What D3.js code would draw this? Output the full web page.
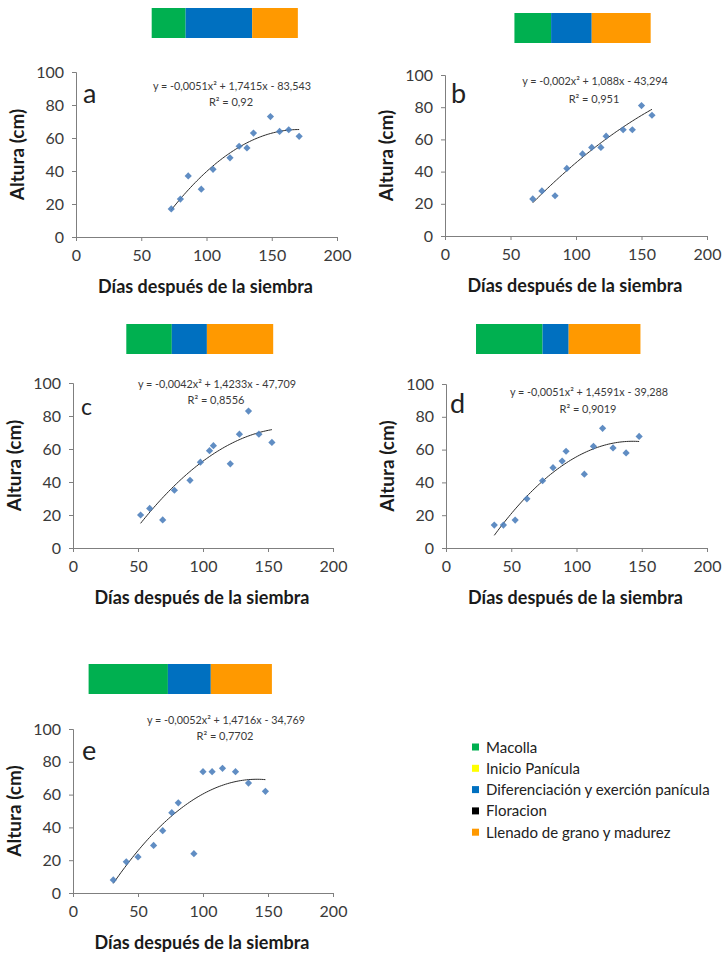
<!DOCTYPE html>
<html>
<head>
<meta charset="utf-8">
<script src="https://cdn.jsdelivr.net/npm/d3@7"></script>
<style>
  html, body { margin: 0; padding: 0; background: #fff; }
  svg { display: block; }
  text { font-family: Lato, "Open Sans", sans-serif; }
</style>
</head>
<body>
<svg id="fig" width="727" height="957"></svg>
<script>
// Plant height (cm) against days after sowing, five sowing dates (a–e)
const xTicks = [0, 50, 100, 150, 200];
const yTicks = [0, 20, 40, 60, 80, 100];

const daysA = [73, 80, 86, 96, 105, 118, 125, 131, 136, 149, 156, 163, 171];
const alturaA = [17, 23, 37, 29, 41, 48, 55, 54, 63, 73, 64, 65, 61];
const coefA = [-0.0051, 1.7415, -83.543];
const r2A = 0.92;
const stagesA = [58, 84, 135, 170];

const daysB = [67, 74, 84, 93, 105, 112, 119, 123, 136, 143, 150, 158];
const alturaB = [23, 28, 25, 42, 51, 55, 55, 62, 66, 66, 81, 75];
const coefB = [-0.002, 1.088, -43.294];
const r2B = 0.951;
const stagesB = [53, 81, 112, 157];

const daysC = [52, 59, 69, 78, 90, 98, 105, 108, 121, 128, 135, 143, 153];
const alturaC = [20, 24, 17, 35, 41, 52, 59, 62, 51, 69, 83, 69, 64];
const coefC = [-0.0042, 1.4233, -47.709];
const r2C = 0.8556;
const stagesC = [41, 76, 103, 154];

const daysD = [37, 44, 53, 62, 74, 82, 89, 92, 106, 113, 120, 128, 138, 148];
const alturaD = [14, 14, 17, 30, 41, 49, 53, 59, 45, 62, 73, 61, 58, 68];
const coefD = [-0.0051, 1.4591, -39.288];
const r2D = 0.9019;
const stagesD = [23, 74, 94, 149];

const daysE = [31, 41, 50, 62, 69, 76, 81, 93, 100, 107, 115, 125, 135, 148];
const alturaE = [8, 19, 22, 29, 38, 49, 55, 24, 74, 74, 76, 74, 67, 62];
const coefE = [-0.0052, 1.4716, -34.769];
const r2E = 0.7702;
const stagesE = [12, 73, 106, 153];

const stageNames = ["Macolla", "Inicio Panícula", "Diferenciación y exerción panícula", "Floracion", "Llenado de grano y madurez"];
const stageColors = ["#00b050", "#ffff00", "#0070c0", "#000000", "#ff9900"];
// colours of the three stage segments drawn above each panel
const barColors = [stageColors[0], stageColors[2], stageColors[4]];

const panels = [
  { id: "a", days: daysA, alt: alturaA, coef: coefA, r2: r2A, stages: stagesA,
    x0: 76, x1: 337, yTop: 72, yBot: 237, barY: 8, eqX: 232, eqY: 90, r2Y: 106,
    lx: 83, ly: 103, lsize: 27 },
  { id: "b", days: daysB, alt: alturaB, coef: coefB, r2: r2B, stages: stagesB,
    x0: 445, x1: 707, yTop: 75, yBot: 236, barY: 13, eqX: 595, eqY: 85, r2Y: 103,
    lx: 451, ly: 103, lsize: 27 },
  { id: "c", days: daysC, alt: alturaC, coef: coefC, r2: r2C, stages: stagesC,
    x0: 73, x1: 333, yTop: 383, yBot: 548, barY: 324, eqX: 217, eqY: 388, r2Y: 404,
    lx: 81, ly: 415, lsize: 23 },
  { id: "d", days: daysD, alt: alturaD, coef: coefD, r2: r2D, stages: stagesD,
    x0: 446, x1: 707, yTop: 384, yBot: 548, barY: 324, eqX: 589, eqY: 396, r2Y: 413,
    lx: 450, ly: 413, lsize: 27 },
  { id: "e", days: daysE, alt: alturaE, coef: coefE, r2: r2E, stages: stagesE,
    x0: 73, x1: 333, yTop: 729, yBot: 893, barY: 664, eqX: 226, eqY: 724, r2Y: 740,
    lx: 82, ly: 760, lsize: 27 }
];

const svg = d3.select("#fig");
const comma = v => String(v).replace(".", ",");

function equationText(c) {
  const s = v => (v < 0 ? "- " : "+ ");
  return "y = " + (c[0] < 0 ? "-" : "") + comma(Math.abs(c[0])) + "x² " +
    s(c[1]) + comma(Math.abs(c[1])) + "x " + s(c[2]) + comma(Math.abs(c[2]));
}

panels.forEach(p => {
  const x = d3.scaleLinear().domain([0, 200]).range([p.x0, p.x1]);
  const y = d3.scaleLinear().domain([0, 100]).range([p.yBot, p.yTop]);
  const g = svg.append("g");

  // phenological stage bar
  const segs = d3.pairs(p.stages);
  g.selectAll("rect.stage").data(segs).join("rect")
    .attr("x", d => x(d[0]))
    .attr("width", d => x(d[1]) - x(d[0]))
    .attr("y", p.barY).attr("height", 30)
    .attr("fill", (d, i) => barColors[i]);

  // axes
  const yAxis = d3.axisLeft(y).tickValues(yTicks).tickSize(4).tickPadding(8);
  const xAxis = d3.axisBottom(x).tickValues(xTicks).tickSize(4).tickPadding(9);
  const ga = g.append("g").attr("transform", `translate(${p.x0},0)`).call(yAxis);
  const gb = g.append("g").attr("transform", `translate(0,${p.yBot})`).call(xAxis);
  [ga, gb].forEach(a => {
    a.select(".domain").attr("stroke", "#7f7f7f");
    a.selectAll(".tick line").attr("stroke", "#7f7f7f");
    a.selectAll(".tick text").attr("fill", "#3a3a3a")
      .style("font-size", "16px").style("font-family", "Lato, sans-serif");
  });

  // axis titles
  g.append("text")
    .attr("transform", `translate(${p.x0 - 52},${(p.yTop + p.yBot) / 2}) rotate(-90)`)
    .attr("text-anchor", "middle")
    .style("font-size", "19px").style("font-weight", "bold").attr("fill", "#1a1a1a")
    .text("Altura (cm)");
  g.append("text")
    .attr("x", (p.x0 + p.x1) / 2 - 1).attr("y", p.yBot + 56)
    .attr("text-anchor", "middle")
    .style("font-size", "18px").style("font-weight", "bold").attr("fill", "#1a1a1a")
    .text("Días después de la siembra");

  // panel letter
  g.append("text").attr("x", p.lx).attr("y", p.ly)
    .style("font-size", p.lsize + "px").attr("fill", "#222").text(p.id);

  // quadratic trend line over the observed range
  const f = d => p.coef[0] * d * d + p.coef[1] * d + p.coef[2];
  const lo = d3.min(p.days), hi = d3.max(p.days);
  const curve = d3.range(lo, hi + 0.001, (hi - lo) / 80).map(d => [d, f(d)]);
  g.append("path").datum(curve)
    .attr("fill", "none").attr("stroke", "#2b2b2b").attr("stroke-width", 1)
    .attr("d", d3.line().x(d => x(d[0])).y(d => y(d[1])));

  // observations
  const pts = p.days.map((d, i) => [d, p.alt[i]]);
  g.selectAll("path.pt").data(pts).join("path")
    .attr("class", "pt")
    .attr("transform", d => `translate(${x(d[0])},${y(d[1])}) rotate(45)`)
    .attr("d", d3.symbol(d3.symbolSquare, 26)())
    .attr("fill", "#4f81bd").attr("fill-opacity", 0.9);

  // equation and R²
  g.append("text").attr("x", p.eqX).attr("y", p.eqY).attr("text-anchor", "middle")
    .style("font-size", "10.8px").attr("fill", "#3a3a3a").text(equationText(p.coef));
  g.append("text").attr("x", p.eqX - 1).attr("y", p.r2Y).attr("text-anchor", "middle")
    .style("font-size", "11px").attr("fill", "#3a3a3a").text("R² = " + comma(p.r2));
});

// legend of phenological stages
const lg = svg.append("g").attr("transform", "translate(472,747)");
const rows = lg.selectAll("g").data(stageNames).join("g")
  .attr("transform", (d, i) => `translate(0,${i * 21.3})`);
rows.append("rect").attr("x", 0).attr("y", -3.5).attr("width", 7).attr("height", 7)
  .attr("fill", (d, i) => stageColors[i]);
rows.append("text").attr("x", 14).attr("y", 5.5)
  .style("font-size", "15px").attr("fill", "#222").text(d => d);
</script>
</body>
</html>
